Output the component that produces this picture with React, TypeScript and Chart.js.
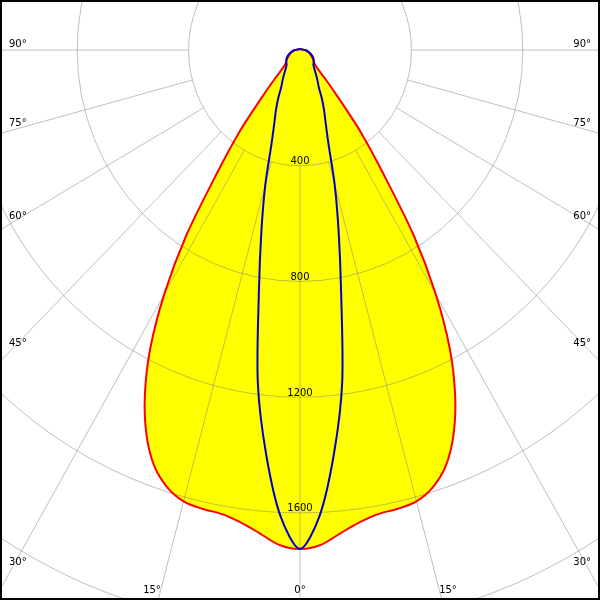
import React, { useEffect, useRef } from 'react';
import { Chart, registerables } from 'chart.js';

Chart.register(...registerables);

// Angles from nadir (degrees) and luminous intensity (cd) per plane
const ANGLES = [0, 2.5, 5, 7.5, 10, 12.5, 15, 17.5, 20, 22.5, 25, 27.5, 30, 32.5, 35, 37.5, 40, 42.5, 45, 50, 55, 60, 70, 80, 90, 100, 110, 120, 150, 180];
const PLANE_C0_C180 = [1725, 1712, 1676, 1646, 1628, 1624, 1615, 1585, 1530, 1440, 1318, 1165, 975, 760, 520, 360, 210, 130, 85, 64, 58, 50, 38, 27, 17, 9, 6, 5, 4, 4];
const PLANE_C90_C270 = [1725, 1612, 1400, 1160, 850, 640, 480, 340, 270, 226, 186, 147, 128, 112, 98, 86, 78, 72, 68, 65, 60, 55, 42, 30, 19, 10, 6, 5, 4, 4];

// Grid
const RINGS = [400, 800, 1200, 1600, 2000, 2400];
const RING_LABELS = ['400', '800', '1200', '1600'];
const SPOKES = [0, 15, 30, 45, 60, 75, 90];
const SPOKE_END = 4000;

// Axis ranges (cd)
const X_MIN = -1077;
const X_MAX = 1077;
const Y_MIN = -1901;
const Y_MAX = 173;

const toXY = (deg: number, r: number, side: number) => ({
  x: side * r * Math.sin((deg * Math.PI) / 180),
  y: -r * Math.cos((deg * Math.PI) / 180),
});

function closedCurve(values: number[]) {
  const pts: { x: number; y: number }[] = [];
  for (let i = ANGLES.length - 1; i >= 0; i--) pts.push(toXY(ANGLES[i], values[i], 1));
  for (let i = 1; i < ANGLES.length; i++) pts.push(toXY(ANGLES[i], values[i], -1));
  return pts;
}

const FONT = '10px "DejaVu Sans", sans-serif';

// degree label placements (pixel, style)
const ANGLE_LABELS: { text: string; x: number; y: number; align: CanvasTextAlign }[] = [
  { text: '90°', x: 9, y: 47, align: 'left' },
  { text: '75°', x: 9, y: 126, align: 'left' },
  { text: '60°', x: 9, y: 219, align: 'left' },
  { text: '45°', x: 9, y: 346, align: 'left' },
  { text: '30°', x: 9, y: 565, align: 'left' },
  { text: '90°', x: 591, y: 47, align: 'right' },
  { text: '75°', x: 591, y: 126, align: 'right' },
  { text: '60°', x: 591, y: 219, align: 'right' },
  { text: '45°', x: 591, y: 346, align: 'right' },
  { text: '30°', x: 591, y: 565, align: 'right' },
  { text: '15°', x: 152, y: 593, align: 'center' },
  { text: '0°', x: 300, y: 593, align: 'center' },
  { text: '15°', x: 448, y: 593, align: 'center' },
];

export default function App() {
  const ref = useRef<HTMLCanvasElement>(null);

  useEffect(() => {
    document.body.style.margin = '0';
    const canvas = ref.current;
    if (!canvas) return;

    const polarPlugin = {
      id: 'polarGrid',
      afterDatasetDraw(chart: any, args: any) {
        if (args.index !== 0) return;
        const { ctx } = chart;
        const xs = chart.scales.x;
        const ys = chart.scales.y;
        const cx = xs.getPixelForValue(0);
        const cy = ys.getPixelForValue(0);
        ctx.save();
        ctx.strokeStyle = 'rgba(128,128,128,0.5)';
        ctx.lineWidth = 1;
        RINGS.forEach((r) => {
          const rx = xs.getPixelForValue(r) - cx;
          const ry = cy - ys.getPixelForValue(r);
          ctx.beginPath();
          ctx.ellipse(cx, cy, rx, ry, 0, 0, Math.PI * 2);
          ctx.stroke();
        });
        SPOKES.forEach((a) => {
          const sides = a === 0 ? [1] : [-1, 1];
          sides.forEach((s) => {
            const p0 = toXY(a, RINGS[0], s);
            const p1 = toXY(a, SPOKE_END, s);
            ctx.beginPath();
            ctx.moveTo(xs.getPixelForValue(p0.x), ys.getPixelForValue(p0.y));
            ctx.lineTo(xs.getPixelForValue(p1.x), ys.getPixelForValue(p1.y));
            ctx.stroke();
          });
        });
        ctx.restore();
      },
      afterDraw(chart: any) {
        const { ctx } = chart;
        const xs = chart.scales.x;
        const ys = chart.scales.y;
        ctx.save();
        ctx.font = FONT;
        ctx.fillStyle = '#000';
        ctx.textBaseline = 'alphabetic';
        ctx.textAlign = 'center';
        RING_LABELS.forEach((t, i) => {
          const py = ys.getPixelForValue(-RINGS[i]);
          ctx.fillText(t, xs.getPixelForValue(0), py - 1.5);
        });
        ANGLE_LABELS.forEach((l) => {
          ctx.textAlign = l.align;
          ctx.fillText(l.text, l.x, l.y);
        });
        ctx.strokeStyle = '#000';
        ctx.lineWidth = 2;
        ctx.strokeRect(1, 1, chart.width - 2, chart.height - 2);
        ctx.restore();
      },
    };

    const redPts = closedCurve(PLANE_C0_C180);
    const bluePts = closedCurve(PLANE_C90_C270);

    const chart = new Chart(canvas, {
      type: 'line',
      data: {
        datasets: [
          {
            label: 'fill',
            data: redPts,
            order: 3,
            fill: 'shape',
            backgroundColor: '#ffff00',
            borderColor: 'rgba(0,0,0,0)',
            borderWidth: 0,
            pointRadius: 0,
            tension: 0.3,
          },
          {
            label: 'C0-C180',
            data: redPts,
            order: 2,
            fill: false,
            borderColor: '#ff0000',
            borderWidth: 2,
            pointRadius: 0,
            tension: 0.3,
          },
          {
            label: 'C90-C270',
            data: bluePts,
            order: 1,
            fill: false,
            borderColor: '#0000cc',
            borderWidth: 2,
            pointRadius: 0,
            tension: 0.3,
          },
        ],
      },
      options: {
        responsive: false,
        animation: false,
        events: [],
        layout: { padding: 0 },
        plugins: {
          legend: { display: false },
          tooltip: { enabled: false },
          title: { display: false },
        },
        scales: {
          x: { type: 'linear', min: X_MIN, max: X_MAX, display: false },
          y: { type: 'linear', min: Y_MIN, max: Y_MAX, display: false },
        },
      },
      plugins: [polarPlugin],
    });

    return () => chart.destroy();
  }, []);

  return (
    <canvas
      ref={ref}
      width={600}
      height={600}
      style={{ display: 'block', width: 600, height: 600, background: '#fff' }}
    />
  );
}
